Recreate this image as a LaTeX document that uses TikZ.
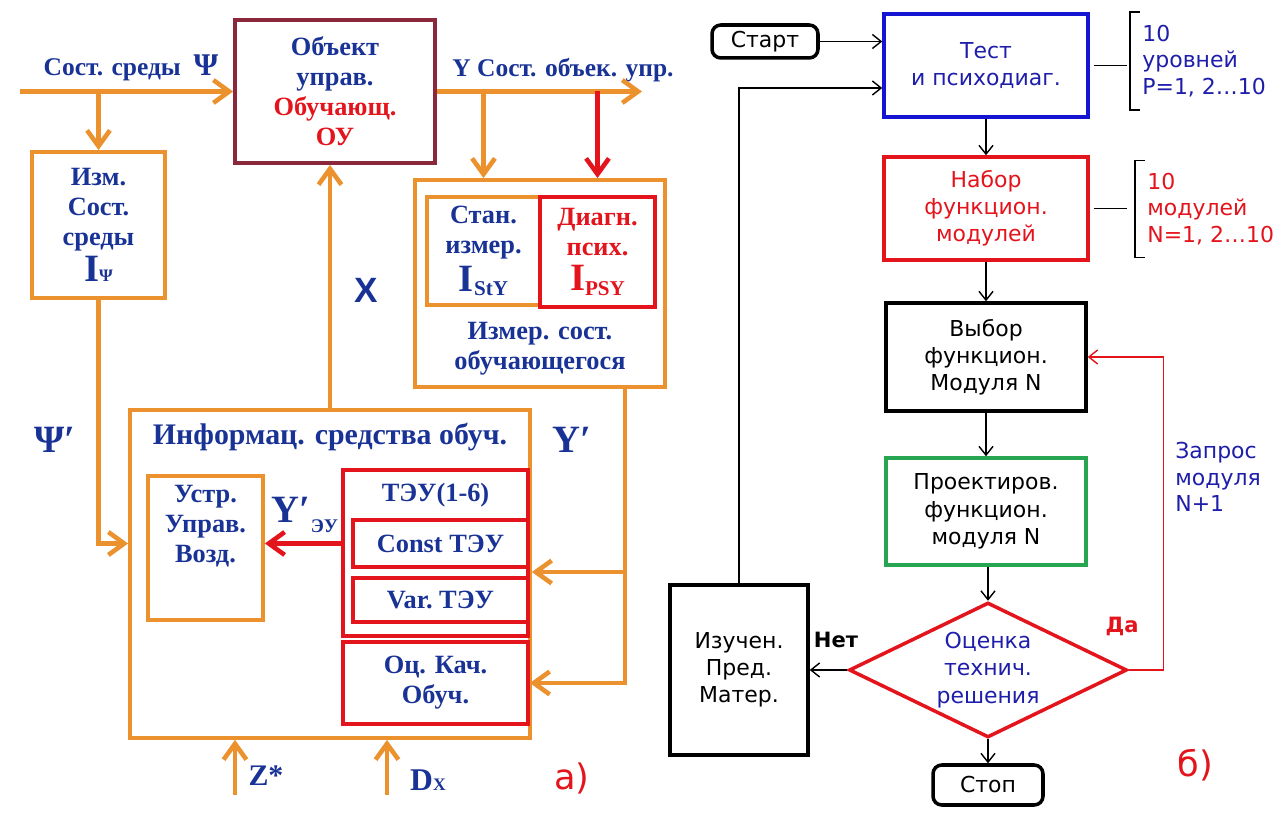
\documentclass[tikz,border=0pt]{standalone}
\usepackage{fontspec}
\setmainfont{Liberation Serif}
\newfontfamily\verd{DejaVu Sans}
\newfontfamily\arial{Liberation Sans}
\usetikzlibrary{shapes.geometric,arrows.meta}
\definecolor{orang}{RGB}{235,145,45}
\definecolor{rouge}{RGB}{228,20,28}
\definecolor{bordeaux}{RGB}{140,40,60}
\definecolor{bleu}{RGB}{25,50,150}
\definecolor{bleuvif}{RGB}{20,20,210}
\definecolor{bleut}{RGB}{30,30,170}
\definecolor{vert}{RGB}{40,165,80}
\newcommand{\grI}{{\fontsize{22}{22}\selectfont I}}
\begin{document}
\begin{tikzpicture}[x=0.02cm,y=-0.02cm]
      \tikzstyle{cadreOr}=[draw=orang, line width=2.2pt, inner sep=0pt, align=center]
      \tikzstyle{cadreRouge}=[draw=rouge, line width=2.2pt, inner sep=0pt, align=center]
      \tikzstyle{cadreNoir}=[draw=black, line width=2pt, inner sep=0pt, align=center, font=\verd\fontsize{12.5}{15.5}\selectfont]
      \tikzstyle{texteG}=[text=bleu, align=center, font=\bfseries\fontsize{15}{17}\selectfont]
      \tikzstyle{texteD}=[align=left, anchor=west, inner sep=0pt, font=\verd\fontsize{12.5}{15}\selectfont]
      \tikzstyle{grand}=[text=bleu, font=\bfseries\fontsize{22}{22}\selectfont]
      \tikzstyle{traitOr}=[draw=orang, line width=2.6pt, -{Straight Barb[length=9pt,width=13pt]}]
      \tikzstyle{traitFin}=[line width=0.8pt, -{Straight Barb[length=5pt,width=8pt]}]
      \useasboundingbox (0,0) rectangle (1275,813);

      % a) schema
      \node[cadreRouge, draw=bordeaux, minimum width=4cm, minimum height=2.86cm, texteG] (OU) at (335,91.5) {Объект\\управ.\\\textcolor{rouge}{Обучающ.}\\\textcolor{rouge}{ОУ}};
      \node[cadreOr, minimum width=2.66cm, minimum height=2.92cm, texteG] (Izm) at (98.5,225) {Изм.\\Сост.\\среды\\[2pt]\grI{\fontsize{10}{10}\selectfont Ψ}};
      \node[cadreOr, minimum width=5cm, minimum height=4.14cm] (IzmS) at (540,283.5) {};
      \node[cadreOr, minimum width=2.26cm, minimum height=2.16cm, texteG] (Stan) at (483.5,251) {Стан.\\измер.\\[3pt]\grI\raisebox{-0.4ex}{\fontsize{12}{12}\selectfont StY}};
      \node[cadreRouge, minimum width=2.3cm, minimum height=2.2cm, texteG, text=rouge] (Diag) at (597.5,252) {Диагн.\\псих.\\[3pt]\grI\raisebox{-0.4ex}{\fontsize{12}{12}\selectfont PSY}};
      \node[texteG] (IzmST) at (540,349) {Измер. сост.\\обучающегося};
      \node[cadreOr, minimum width=8cm, minimum height=6.56cm] (Inf) at (330,574) {};
      \node[texteG, font=\bfseries\fontsize{17}{20}\selectfont] (InfT) at (330,437) {Информац. средства обуч.};
      \node[cadreOr, minimum width=2.3cm, minimum height=2.88cm] (Ustr) at (205.5,548) {};
      \node[texteG] (UstrT) at (205.5,526) {Устр.\\Управ.\\Возд.};
      \node[cadreRouge, minimum width=3.7cm, minimum height=3.32cm] (TEU) at (435.5,553) {};
      \node[texteG] (TEUT) at (435.5,495) {ТЭУ(1-6)};
      \node[cadreRouge, minimum width=3.5cm, minimum height=0.94cm, texteG] (Const) at (440.5,543.5) {Const ТЭУ};
      \node[cadreRouge, minimum width=3.5cm, minimum height=0.88cm, texteG] (Var) at (440.5,600) {Var.\ ТЭУ};
      \node[cadreRouge, minimum width=3.7cm, minimum height=1.64cm, texteG] (Oc) at (435.5,683) {Оц. Кач.\\Обуч.};

      \node[texteG, font=\bfseries\fontsize{14.5}{16}\selectfont] (Sreda) at (131,68) {Сост. среды\ \ {\fontsize{18}{18}\selectfont Ψ}};
      \node[texteG, font=\bfseries\fontsize{14.5}{16}\selectfont] (Ysost) at (563,70) {Y Сост. объек. упр.};
      \node[text=bleu, font=\arial\bfseries\fontsize{20}{20}\selectfont] (Xlab) at (366,290) {X};
      \node[grand] (Psi) at (55,440) {Ψ′};
      \node[grand] (Yp) at (572,440) {Y′};
      \node[grand] (Yeu) at (305,515) {Y′\raisebox{-0.6ex}{\fontsize{11}{11}\selectfont ЭУ}};
      \node[texteG, font=\bfseries\fontsize{17}{17}\selectfont] (Zst) at (266,776) {Z*};
      \node[texteG, font=\bfseries\fontsize{18}{18}\selectfont] (Dx) at (428,780) {D{\fontsize{10}{10}\selectfont X}};
      \node[text=rouge, font=\verd\fontsize{20}{20}\selectfont] (Aa) at (572,778) {а)};

      \coordinate (Entree) at (20,91.5);
      \coordinate (Sortie) at (642,91.5);
      \coordinate (Ycoin) at (625,572);
      \coordinate (Zbas) at (235,795);
      \coordinate (Dbas) at (387,795);
      \draw[traitOr] (Entree) -- (OU.west);
      \draw[traitOr] (Entree -| Izm.north) -- (Izm.north);
      \draw[traitOr] (OU.east) -- (Sortie);
      \draw[traitOr] (Stan.north |- Sortie) -- (Stan.north |- IzmS.north);
      \draw[traitOr, draw=rouge] (Diag.north |- Sortie) -- (Diag.north |- IzmS.north);
      \draw[traitOr] (Izm.south) |- (Inf.west |- Const.center);
      \draw[traitOr] (Inf.north) -- (Inf.north |- OU.south);
      \draw[traitOr] (Ycoin |- IzmS.south) |- (Oc.east);
      \draw[traitOr] (Ycoin) -- (Ycoin -| Inf.east);
      \draw[traitOr, draw=rouge] (TEU.west |- Const) -- (Ustr.east |- Const);
      \draw[traitOr] (Zbas) -- (Zbas |- Inf.south);
      \draw[traitOr] (Dbas) -- (Dbas |- Inf.south);

      % b) algorithme
      \node[cadreNoir, rounded corners=5pt, minimum width=2.12cm, minimum height=0.66cm] (Start) at (765,41.5) {Старт};
      \node[cadreNoir, draw=bleuvif, text=bleut, minimum width=4.08cm, minimum height=2.06cm] (Test) at (986,65.5) {Тест\\и психодиаг.};
      \node[cadreNoir, draw=rouge, text=rouge, minimum width=4.08cm, minimum height=2.06cm] (Nabor) at (986,208.5) {Набор\\функцион.\\модулей};
      \node[cadreNoir, minimum width=4cm, minimum height=2.16cm] (Vybor) at (986,357) {Выбор\\функцион.\\Модуля N};
      \node[cadreNoir, draw=vert, minimum width=4cm, minimum height=2.14cm] (Proekt) at (986,511.5) {Проектиров.\\функцион.\\модуля N};
      \node[cadreNoir, diamond, shape aspect=2.06, draw=rouge, text=bleut, minimum width=5.56cm, minimum height=2.7cm] (Ocen) at (988,670) {Оценка\\технич.\\решения};
      \node[cadreNoir, minimum width=2.76cm, minimum height=3.4cm] (Izuch) at (739,670) {Изучен.\\Пред.\\Матер.};
      \node[cadreNoir, rounded corners=5pt, minimum width=2.2cm, minimum height=0.8cm] (Stop) at (988,785) {Стоп};

      \node[texteD, text=bleut] (Niv) at (1142,61) {10\\уровней\\P=1, 2…10};
      \node[texteD, text=rouge] (Mod) at (1147,209) {10\\модулей\\N=1, 2…10};
      \node[texteD, text=bleut] (Zapros) at (1175,477) {Запрос\\модуля\\N+1};
      \node[font=\verd\bfseries\fontsize{12}{14}\selectfont] (Net) at (836,640) {Нет};
      \node[text=rouge, font=\verd\bfseries\fontsize{12}{14}\selectfont] (Da) at (1122,626) {Да};
      \node[text=rouge, font=\verd\fontsize{20}{20}\selectfont] (Bb) at (1195,765) {б)};

      \draw[traitFin] (Start.east) -- (Start.east -| Test.west);
      \draw[traitFin] (Izuch.north) |- ([yshift=-0.45cm]Test.west);
      \draw[traitFin] (Test.south) -- (Nabor.north);
      \draw[traitFin] (Nabor.south) -- (Vybor.north);
      \draw[traitFin] (Vybor.south) -- (Proekt.north);
      \draw[traitFin] (Proekt.south -| Ocen.north) -- (Ocen.north);
      \draw[traitFin] (Ocen.south) -- (Stop.north);
      \draw[traitFin] (Ocen.west) -- (Izuch.east);
      \draw[traitFin, draw=rouge] (Ocen.east) -- ++(35,0) |- (Vybor.east);
      \draw[line width=0.8pt] ([xshift=0.08cm]Test.east) -- ++(33,0);
      \draw[line width=0.8pt] ([xshift=0.08cm]Nabor.east) -- ++(33,0);
      \draw[line width=0.8pt] ([shift={(-2,-49)}]Niv.west) -- ++(-10,0) -- ++(0,98) -- ++(10,0);
      \draw[line width=0.8pt] ([shift={(-2,-48.5)}]Mod.west) -- ++(-10,0) -- ++(0,97) -- ++(10,0);
\end{tikzpicture}
\end{document}
